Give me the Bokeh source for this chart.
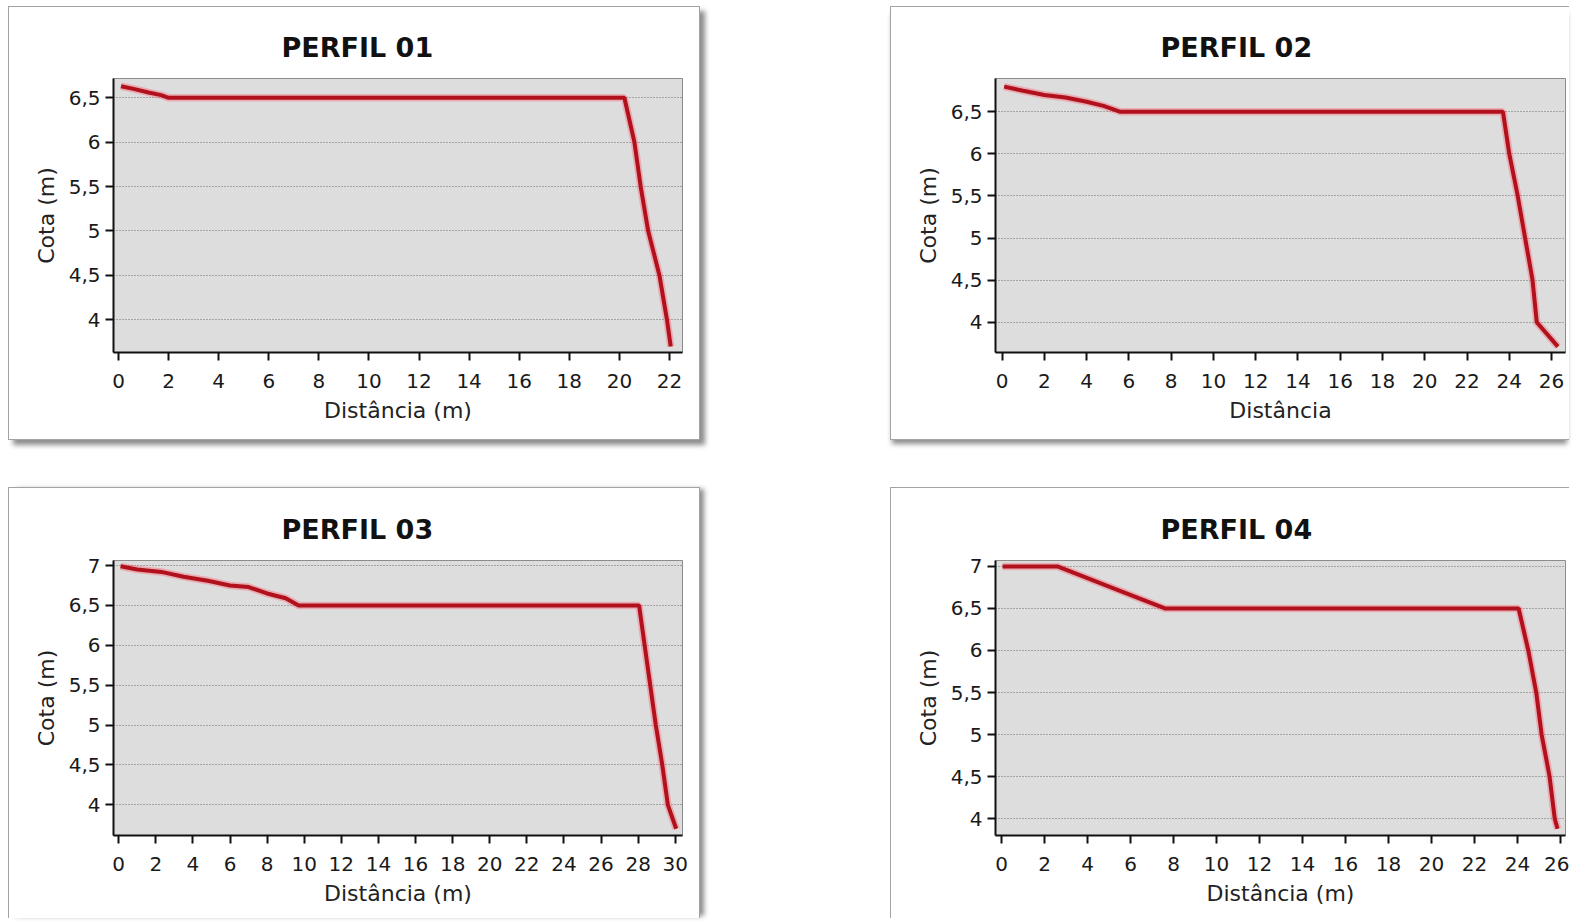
from bokeh.plotting import figure
from bokeh.layouts import column, row
from bokeh.models import Range1d, FixedTicker, CustomJSTickFormatter, Spacer, ColumnDataSource
from bokeh.embed import file_html
from bokeh.resources import INLINE

# ---------------- data ----------------
titles = ["PERFIL 01", "PERFIL 02", "PERFIL 03", "PERFIL 04"]
x_labels = ["Distância (m)", "Distância", "Distância (m)", "Distância (m)"]
y_label = "Cota (m)"

dist_01 = [0.1, 0.6, 1.2, 1.7, 2.0, 20.2, 20.4, 20.6, 20.85, 21.15, 21.6, 21.9, 22.05]
cota_01 = [6.63, 6.6, 6.56, 6.53, 6.5, 6.5, 6.25, 6.0, 5.5, 5.0, 4.5, 4.0, 3.7]

dist_02 = [0.1, 1.0, 2.0, 3.0, 4.0, 4.8, 5.6, 23.7, 24.0, 24.4, 24.75, 25.1, 25.3, 26.3]
cota_02 = [6.80, 6.75, 6.70, 6.67, 6.62, 6.57, 6.5, 6.5, 6.0, 5.5, 5.0, 4.5, 4.0, 3.71]

dist_03 = [0.1, 1.0, 2.3, 3.5, 4.8, 6.0, 7.0, 8.0, 9.0, 9.7, 28.05, 28.35, 28.65, 28.95, 29.3, 29.6, 30.05]
cota_03 = [6.99, 6.95, 6.92, 6.86, 6.81, 6.75, 6.73, 6.65, 6.59, 6.5, 6.5, 6.0, 5.5, 5.0, 4.5, 4.0, 3.7]

dist_04 = [0.05, 2.6, 5.3, 7.6, 24.05, 24.5, 24.87, 25.12, 25.49, 25.73, 25.86]
cota_04 = [7.0, 7.0, 6.73, 6.5, 6.5, 6.0, 5.5, 5.0, 4.5, 4.0, 3.88]

x_ticks_01 = [0, 2, 4, 6, 8, 10, 12, 14, 16, 18, 20, 22]
x_ticks_02 = [0, 2, 4, 6, 8, 10, 12, 14, 16, 18, 20, 22, 24, 26]
x_ticks_03 = [0, 2, 4, 6, 8, 10, 12, 14, 16, 18, 20, 22, 24, 26, 28, 30]
x_ticks_04 = [0, 2, 4, 6, 8, 10, 12, 14, 16, 18, 20, 22, 24, 26]
y_ticks_01 = [4, 4.5, 5, 5.5, 6, 6.5]
y_ticks_03 = [4, 4.5, 5, 5.5, 6, 6.5, 7]

FONT = "DejaVu Sans"
BORDER = "1px solid #a3a3a3"


def panel(title, xlab, xs, ys, xt, yt, xr, yr, w, h, mb, title_offset, styles):
    p = figure(width=w, height=h, x_range=Range1d(*xr), y_range=Range1d(*yr),
               output_backend="svg", toolbar_location=None,
               min_border_left=mb[0], min_border_right=mb[1],
               min_border_top=mb[2], min_border_bottom=mb[3],
               background_fill_color="#dddddd", border_fill_color="white")
    p.title.text = title
    p.title.align = "left"
    p.title.offset = title_offset
    p.title.text_font = FONT
    p.title.text_font_size = "27px"
    p.title.text_font_style = "bold"
    p.title.text_color = "#111111"
    p.title.standoff = 31

    p.outline_line_color = "#8c8c8c"
    p.outline_line_width = 1

    p.xgrid.visible = False
    p.ygrid.grid_line_color = "#6a6a6a"
    p.ygrid.grid_line_dash = "1 2"
    p.ygrid.grid_line_width = 1

    for ax in (p.xaxis[0], p.yaxis[0]):
        ax.axis_line_color = "#111111"
        ax.axis_line_width = 2
        ax.major_tick_line_color = "#111111"
        ax.major_tick_line_width = 2
        ax.major_tick_in = 0
        ax.major_tick_out = 8
        ax.minor_tick_line_color = None
        ax.major_label_text_font = FONT
        ax.major_label_text_font_size = "20px"
        ax.major_label_text_color = "#1a1a1a"
        ax.axis_label_text_font = FONT
        ax.axis_label_text_font_size = "22px"
        ax.axis_label_text_font_style = "normal"
        ax.axis_label_text_color = "#222222"

    p.xaxis.ticker = FixedTicker(ticks=xt)
    p.yaxis.ticker = FixedTicker(ticks=yt)
    p.yaxis.formatter = CustomJSTickFormatter(code="return String(tick).replace('.', ',');")
    p.xaxis.axis_label = xlab
    p.yaxis.axis_label = y_label
    p.xaxis.major_label_standoff = 13
    p.yaxis.major_label_standoff = 5
    p.xaxis.axis_label_standoff = 7
    p.yaxis.axis_label_standoff = 7

    src = ColumnDataSource(dict(x=xs, y=ys))
    p.line("x", "y", source=src, line_color="#ff5060", line_alpha=0.35, line_width=7.5)
    p.line("x", "y", source=src, line_color="#b0111c", line_width=4)
    p.styles = styles
    return p


p1 = panel(titles[0], x_labels[0], dist_01, cota_01, x_ticks_01, y_ticks_01,
           (-0.2, 22.52), (3.632, 6.717), 692, 434, (104, 19, 71, 89), 168,
           {"border": BORDER, "box-shadow": "5px 5px 5px rgba(0,0,0,0.45)"})
p2 = panel(titles[1], x_labels[1], dist_02, cota_02, x_ticks_02, y_ticks_01,
           (-0.31, 26.66), (3.64, 6.896), 679, 434, (104, 5, 71, 89), 165,
           {"border-left": BORDER, "border-top": BORDER, "border-bottom": BORDER,
            "box-shadow": "0px 6px 5px -2px rgba(0,0,0,0.45)"})
p3 = panel(titles[2], x_labels[2], dist_03, cota_03, x_ticks_03, y_ticks_03,
           (-0.28, 30.39), (3.615, 7.063), 692, 431, (104, 19, 72, 84), 168,
           {"border-left": BORDER, "border-top": BORDER, "border-right": BORDER,
            "box-shadow": "6px 0px 5px -2px rgba(0,0,0,0.45)"})
p4 = panel(titles[3], x_labels[3], dist_04, cota_04, x_ticks_04, y_ticks_03,
           (-0.28, 26.23), (3.80, 7.07), 679, 431, (104, 5, 72, 84), 165,
           {"border-left": BORDER, "border-top": BORDER})

layout = column(Spacer(height=6, width=10),
                row(Spacer(width=8, height=10), p1, Spacer(width=190, height=10), p2),
                Spacer(height=47, width=10),
                row(Spacer(width=8, height=10), p3, Spacer(width=190, height=10), p4))

open("out.html", "w").write(file_html(layout, INLINE))
